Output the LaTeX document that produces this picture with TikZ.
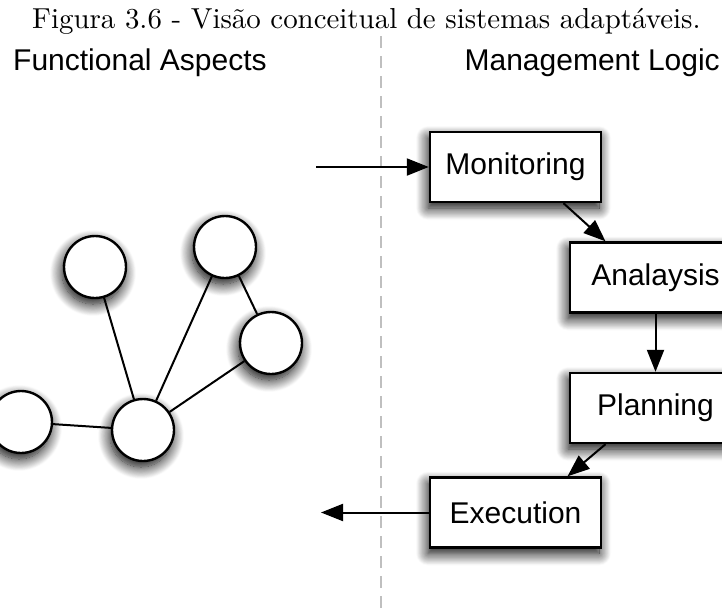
\documentclass[tikz,border=0pt]{standalone}
\usepackage{fontspec}
\newfontfamily\hv{Liberation Sans}
\usetikzlibrary{arrows.meta,shadows.blur}

\tikzset{
  softshadow/.style={blur shadow={shadow xshift=-2pt, shadow yshift=-6pt,
      shadow blur radius=12pt, shadow blur steps=16, shadow opacity=100}},
  stage/.style={draw, line width=2.4pt, fill=white, minimum width=171pt,
      minimum height=70pt, inner sep=0pt, font=\hv\fontsize{30}{34}\selectfont,
      softshadow},
  peer/.style={circle, draw, line width=2.4pt, fill=white, minimum size=62pt,
      inner sep=0pt, softshadow},
  link/.style={line width=2pt},
  flow/.style={line width=2pt, -{Triangle[length=22pt,width=17pt]}},
  header/.style={font=\hv\fontsize{30}{34}\selectfont, inner sep=0pt},
  divider/.style={gray!50, line width=2.5pt, dash pattern=on 12pt off 8pt}
}

\begin{document}
\begin{tikzpicture}[x=1pt,y=-1pt]
\useasboundingbox (0,0) rectangle (722,614);
\clip (0,0) rectangle (722,614);

% caption and column headers
\node[inner sep=0pt, anchor=base west] (title) at (32,28)
  {\scalebox{2.89}{Figura 3.6 - Visão conceitual de sistemas adaptáveis.}};
\node[header, anchor=base west] (fa) at (13,70) {Functional Aspects};
\node[header, anchor=base east] (ml) at (720,70) {Management Logic};

% separator between the two columns
\coordinate (sepTop) at (381,36);
\coordinate (sepBot) at (381,614);
\draw[divider] (sepTop) -- (sepBot);

% functional side: a small graph of components
\node[peer] (c1) at (95,267) {};
\node[peer] (c2) at (225,247) {};
\node[peer] (c3) at (271,343) {};
\node[peer] (hub) at (143,430) {};
\node[peer] (c5) at (21,422) {};
\draw[link] (c1) -- (hub);
\draw[link] (c2) -- (hub);
\draw[link] (c3) -- (hub);
\draw[link] (c2) -- (c3);
\draw[link] (c5) -- (hub);

% management side: the control loop
\node[stage] (mon) at (515.5,167) {Monitoring};
\node[stage] (ana) at (655.5,277.5) {Analaysis};
\node[stage] (plan) at (655.5,408) {Planning};
\node[stage] (exe) at (515.5,512.5) {Execution};

\coordinate (inp) at (316,167);
\coordinate (outp) at (321,512.5);

\draw[flow] (inp) -- (mon.west);
\draw[flow] ([xshift=48pt]mon.south) -- ([xshift=-50pt]ana.north);
\draw[flow] (ana.south) -- (plan.north);
\draw[flow] ([xshift=-50pt]plan.south) -- ([xshift=52pt]exe.north);
\draw[flow] (exe.west) -- (outp);
\end{tikzpicture}
\end{document}
